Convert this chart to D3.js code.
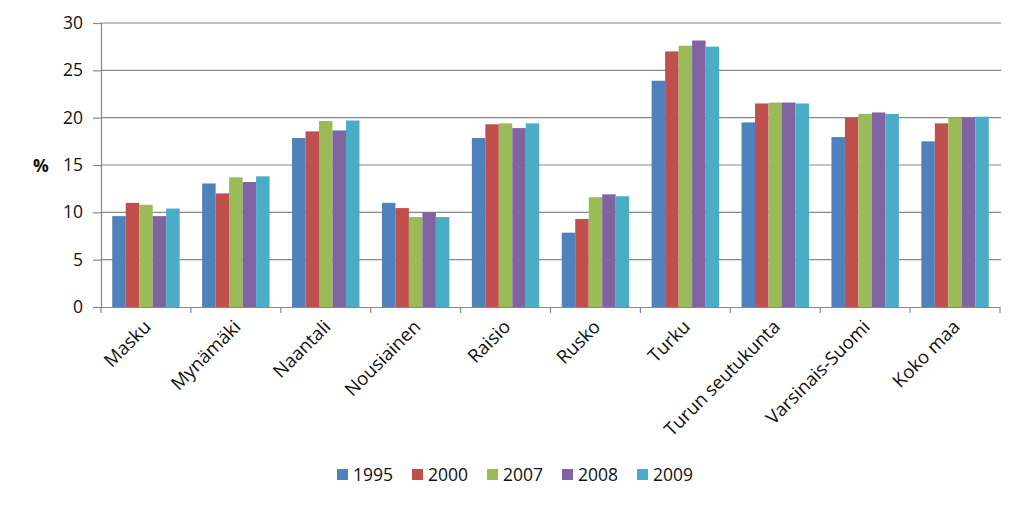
<!DOCTYPE html>
<html>
<head>
<meta charset="utf-8">
<script src="https://cdnjs.cloudflare.com/ajax/libs/d3/7.8.5/d3.min.js"></script>
<style>
    body { margin: 0; background: #fff; }
    svg text { font-family: "Open Sans", sans-serif; fill: #111; }
</style>
</head>
<body>
<svg id="chart" width="1024" height="505"></svg>
<script>
'use strict';

var categories = ['Masku', 'Mynämäki', 'Naantali', 'Nousiainen', 'Raisio',
    'Rusko', 'Turku', 'Turun seutukunta', 'Varsinais-Suomi', 'Koko maa'];
var years = ['1995', '2000', '2007', '2008', '2009'];
var colors = ['#4f81bd', '#c0504d', '#9bbb59', '#8064a2', '#4bacc6'];

var v1995 = [9.6, 13.05, 17.85, 11.0, 17.85, 7.85, 23.9, 19.5, 17.95, 17.5];
var v2000 = [11.0, 12.0, 18.55, 10.45, 19.3, 9.3, 27.0, 21.5, 20.0, 19.4];
var v2007 = [10.8, 13.7, 19.65, 9.5, 19.4, 11.6, 27.6, 21.6, 20.4, 20.0];
var v2008 = [9.6, 13.2, 18.65, 10.0, 18.9, 11.9, 28.15, 21.6, 20.55, 20.0];
var v2009 = [10.4, 13.8, 19.7, 9.5, 19.4, 11.7, 27.5, 21.5, 20.4, 20.1];
var series = [v1995, v2000, v2007, v2008, v2009];

var yTicks = [0, 5, 10, 15, 20, 25, 30];

(function () {
    var svg = d3.select('#chart');
    var left = 101, right = 1000, plotTop = 23, bottom = 307;
    var axisColor = '#888888';
    var fontSize = '17.5px';

    var x = d3.scaleBand().domain(categories).range([left, right]);
    var gap = x.bandwidth() * 0.125;
    var x1 = d3.scaleBand().domain(years).range([gap, x.bandwidth() - gap]);
    var y = d3.scaleLinear().domain([0, 30]).range([bottom, plotTop]);

    // gridlines
    svg.append('g')
        .selectAll('line')
        .data(yTicks.slice(1))
        .enter().append('line')
        .attr('x1', left).attr('x2', right + 1)
        .attr('y1', function (d) { return y(d); })
        .attr('y2', function (d) { return y(d); })
        .style('stroke', axisColor)
        .style('stroke-width', 1.2);

    // bars
    var groups = svg.append('g')
        .selectAll('g')
        .data(categories)
        .enter().append('g')
        .attr('transform', function (d) { return 'translate(' + x(d) + ',0)'; });

    groups.selectAll('rect')
        .data(function (d, i) {
            return years.map(function (yr, j) { return { year: yr, value: series[j][i], k: j }; });
        })
        .enter().append('rect')
        .attr('x', function (d) { return x1(d.year); })
        .attr('width', x1.bandwidth())
        .attr('y', function (d) { return y(d.value); })
        .attr('height', function (d) { return bottom - y(d.value); })
        .style('fill', function (d) { return colors[d.k]; });

    // y axis
    var yAxis = svg.append('g')
        .attr('transform', 'translate(' + left + ',0)')
        .call(d3.axisLeft(y).tickValues(yTicks).tickSize(8).tickPadding(10));
    yAxis.select('.domain').style('stroke', axisColor).style('stroke-width', 1.2);
    yAxis.selectAll('.tick line').style('stroke', axisColor).style('stroke-width', 1.2);
    yAxis.selectAll('text').style('font-size', fontSize).style('font-family', '"Open Sans", sans-serif');

    // x axis
    var xAxis = svg.append('g')
        .attr('transform', 'translate(0,' + bottom + ')')
        .call(d3.axisBottom(x).tickSize(0).tickPadding(0));
    xAxis.select('.domain').style('stroke', axisColor).style('stroke-width', 1.2);
    xAxis.selectAll('.tick text').remove();

    svg.append('g')
        .selectAll('line')
        .data(d3.range(categories.length + 1))
        .enter().append('line')
        .attr('x1', function (i) { return left + i * x.step(); })
        .attr('x2', function (i) { return left + i * x.step(); })
        .attr('y1', bottom).attr('y2', bottom + 6)
        .style('stroke', axisColor)
        .style('stroke-width', 1.2);

    svg.append('g')
        .selectAll('text')
        .data(categories)
        .enter().append('text')
        .attr('transform', function (d) {
            return 'translate(' + (x(d) + x.bandwidth() / 2 + 6) + ',' + (bottom + 21) + ') rotate(-45)';
        })
        .attr('text-anchor', 'end')
        .style('font-size', '18.5px')
        .text(function (d) { return d; });

    // y title
    svg.append('text')
        .attr('x', 41).attr('y', 172)
        .attr('text-anchor', 'middle')
        .style('font-size', fontSize)
        .style('font-weight', 'bold')
        .text('%');

    // legend
    var legend = svg.append('g')
        .selectAll('g')
        .data(years)
        .enter().append('g')
        .attr('transform', function (d, i) { return 'translate(' + (337 + i * 75) + ',469)'; });

    legend.append('rect')
        .attr('width', 11).attr('height', 11)
        .style('fill', function (d, i) { return colors[i]; });

    legend.append('text')
        .attr('x', 16).attr('y', 12)
        .style('font-size', fontSize)
        .text(function (d) { return d; });
})();
</script>
</body>
</html>
